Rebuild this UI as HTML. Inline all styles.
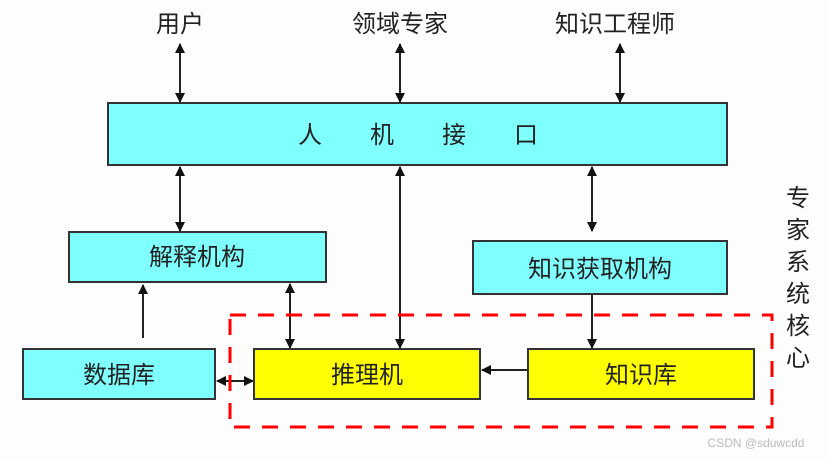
<!DOCTYPE html>
<html><head><meta charset="utf-8"><style>
body{margin:0;background:#fff;}
svg text{font-family:"Liberation Sans","Noto Sans CJK SC",sans-serif;fill:#222;}
</style></head><body>
<svg width="829" height="460" viewBox="0 0 829 460" xmlns="http://www.w3.org/2000/svg">
<defs>
<marker id="a" markerWidth="10" markerHeight="10" refX="9" refY="5" orient="auto-start-reverse" markerUnits="userSpaceOnUse">
<path d="M0,0 L10,5 L0,10 z" fill="#111"/></marker>
</defs>
<rect width="829" height="460" fill="#fdfdfd"/>
<g font-size="24" text-anchor="middle">
<text x="180" y="32">用户</text>
<text x="400" y="32">领域专家</text>
<text x="615" y="32">知识工程师</text>
</g>
<g stroke="#222" stroke-width="2" fill="none">
<line x1="180" y1="44" x2="180" y2="102" marker-start="url(#a)" marker-end="url(#a)"/>
<line x1="400" y1="44" x2="400" y2="102" marker-start="url(#a)" marker-end="url(#a)"/>
<line x1="620" y1="44" x2="620" y2="102" marker-start="url(#a)" marker-end="url(#a)"/>
<line x1="180" y1="167" x2="180" y2="231" marker-start="url(#a)" marker-end="url(#a)"/>
<line x1="400" y1="167" x2="400" y2="348" marker-start="url(#a)" marker-end="url(#a)"/>
<line x1="592" y1="167" x2="592" y2="231" marker-start="url(#a)" marker-end="url(#a)"/>
<line x1="592" y1="295" x2="592" y2="348" marker-end="url(#a)"/>
<line x1="290" y1="284" x2="290" y2="348" marker-start="url(#a)" marker-end="url(#a)"/>
<line x1="143" y1="338" x2="143" y2="285" marker-end="url(#a)"/>
<line x1="217" y1="381" x2="253" y2="381" marker-start="url(#a)" marker-end="url(#a)"/>
<line x1="527" y1="370" x2="482" y2="370" marker-end="url(#a)"/>
</g>
<g stroke="#333" stroke-width="2">
<rect x="108" y="103" width="619" height="62" fill="#80ffff"/>
<rect x="69" y="232" width="257" height="50" fill="#80ffff"/>
<rect x="473" y="241" width="254" height="53" fill="#80ffff"/>
<rect x="23" y="349" width="192" height="50" fill="#80ffff"/>
<rect x="254" y="349" width="226" height="50" fill="#ffff00"/>
<rect x="528" y="349" width="226" height="50" fill="#ffff00"/>
</g>
<rect x="230" y="315" width="542" height="112" fill="none" stroke="#ff0000" stroke-width="3" stroke-dasharray="16,12"/>
<g font-size="24" text-anchor="middle">
<text x="418" y="143">人　　机　　接　　口</text>
<text x="197" y="265">解释机构</text>
<text x="600" y="277">知识获取机构</text>
<text x="119" y="383">数据库</text>
<text x="367" y="383">推理机</text>
<text x="641" y="383">知识库</text>
</g>
<g font-size="24" text-anchor="middle">
<text x="798" y="206">专</text><text x="798" y="238">家</text><text x="798" y="270">系</text>
<text x="798" y="302">统</text><text x="798" y="334">核</text><text x="798" y="366">心</text>
</g>
<text x="756" y="447" font-size="12" text-anchor="middle" style="fill:#bbb">CSDN @sduwcdd</text>
</svg>
</body></html>
